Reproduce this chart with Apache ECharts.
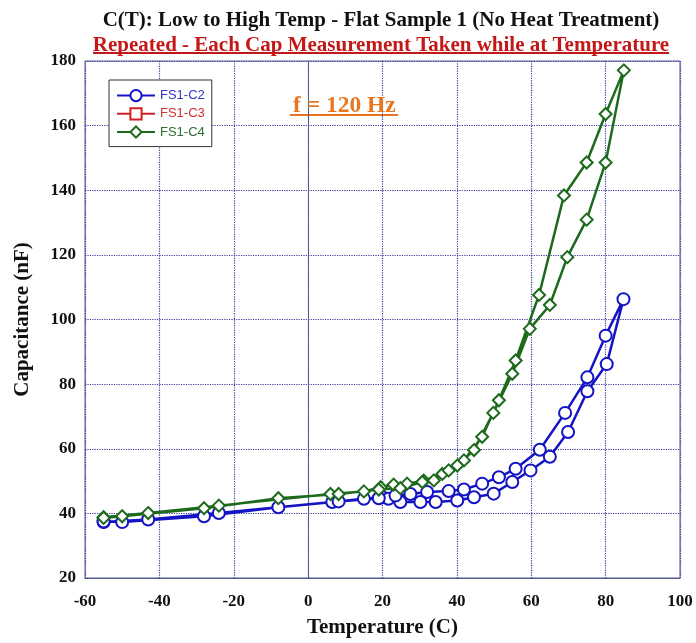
<!DOCTYPE html>
<html>
<head>
<meta charset="utf-8">
<script src="https://cdn.jsdelivr.net/npm/echarts@6/dist/echarts.min.js"></script>
<style>
  html, body { margin: 0; padding: 0; background: #fff; }
  #chart { width: 696px; height: 643px; }
</style>
</head>
<body>
<div id="chart"></div>
<script>
// Axis ticks
const xTicks = { min: -60, max: 100, step: 20 };
const yTicks = { min: 20, max: 180, step: 20 };

// FS1-C2: heating sweep then the repeated sweep back down (temperature in C, capacitance in nF)
const c2Temp = [-55, -43, -24, 6.5, 15, 20, 21.6, 24.8, 30.2, 34.3, 40.1, 44.6, 49.9, 54.9, 59.8, 65, 69.9, 75.1, 80.3, 84.8,
                80, 75.1, 69.1, 62.3, 55.8, 51.3, 46.8, 41.9, 37.8, 32, 27.5, 23.5, 19, 8.2, -8, -28, -50, -55];
const c2Cap  = [37.3, 38.1, 40.1, 43.5, 44.5, 45.0, 44.5, 43.5, 43.5, 43.5, 44.0, 45.0, 46.1, 49.7, 53.3, 57.5, 65.2, 77.8, 86.2, 106.3,
                95.0, 82.1, 71.1, 59.7, 53.8, 51.2, 49.2, 47.4, 46.9, 46.6, 46.0, 45.5, 44.7, 43.7, 41.9, 39.1, 37.3, 37.5];

// FS1-C3: no points recorded
const c3Temp = [];
const c3Cap  = [];

// FS1-C4
const c4Temp = [-55, -43, -24, 6, 15, 19.5, 23, 26.6, 31.1, 36.1, 41.9, 46.8, 51.3, 55.8, 62.1, 68.8, 74.9, 80, 84.9,
                80, 74.9, 69.7, 65.0, 59.6, 54.9, 49.8, 44.6, 40.1, 37.8, 33.8, 30.7, 24.8, 19, 8.2, -8, -28, -50, -55];
const c4Cap  = [38.8, 40.1, 42.4, 46.0, 46.8, 48.1, 48.9, 49.2, 50.1, 52.2, 56.4, 63.7, 75.0, 87.3, 107.6, 138.4, 148.6, 163.6, 177.1,
                148.6, 130.9, 119.3, 104.5, 97.1, 83.2, 71.1, 59.6, 54.8, 53.3, 50.2, 49.7, 47.8, 47.4, 46.0, 44.7, 41.6, 39.1, 38.6];

const seriesNames = ['FS1-C2', 'FS1-C3', 'FS1-C4'];

const pairs = (xs, ys) => xs.map((x, i) => [x, ys[i]]);

const BLUE = '#1414c4';
const RED = '#d02020';
const GREEN = '#1d6a1d';
const SERIF = '"Liberation Serif", "Times New Roman", serif';
const SANS = '"Liberation Sans", Arial, sans-serif';

const chart = echarts.init(document.getElementById('chart'), null, { renderer: 'canvas' });

chart.setOption({
  backgroundColor: '#ffffff',
  animation: false,
  title: [
    {
      text: 'C(T): Low to High Temp - Flat Sample 1 (No Heat Treatment)',
      left: 376, top: 5, textAlign: 'center',
      textStyle: { fontFamily: SERIF, fontWeight: 'bold', fontSize: 21, color: '#111' }
    },
    {
      text: 'Repeated - Each Cap Measurement Taken while at Temperature',
      left: 376, top: 30, textAlign: 'center',
      textStyle: { fontFamily: SERIF, fontWeight: 'bold', fontSize: 21, color: '#c41818' }
    },
    {
      text: 'f = 120 Hz',
      left: 288, top: 89,
      textStyle: { fontFamily: SERIF, fontWeight: 'bold', fontSize: 23.5, color: '#e8761e' }
    }
  ],
  graphic: [
    { type: 'line', shape: { x1: 93, y1: 53, x2: 669, y2: 53 }, style: { stroke: '#c41818', lineWidth: 2 } },
    { type: 'line', shape: { x1: 290, y1: 115, x2: 398, y2: 115 }, style: { stroke: '#e8761e', lineWidth: 2 } }
  ],
  legend: {
    orient: 'vertical',
    left: 109, top: 80,
    padding: [9, 7, 8, 7],
    itemGap: 5,
    itemWidth: 38, itemHeight: 14,
    borderColor: '#333', borderWidth: 1,
    backgroundColor: '#fff',
    textStyle: { fontFamily: SANS, fontSize: 13 },
    data: [
      { name: seriesNames[0], textStyle: { color: '#3535c0' } },
      { name: seriesNames[1], textStyle: { color: '#d03030' } },
      { name: seriesNames[2], textStyle: { color: '#2f6e2f' } }
    ]
  },
  grid: {
    left: 85, right: 16, top: 61, bottom: 64,
    show: true, borderColor: '#555a90', borderWidth: 1
  },
  xAxis: {
    type: 'value',
    min: xTicks.min, max: xTicks.max, interval: xTicks.step,
    name: 'Temperature (C)', nameLocation: 'middle', nameGap: 39,
    nameTextStyle: { fontFamily: SERIF, fontWeight: 'bold', fontSize: 21, color: '#111' },
    axisLine: { show: true, lineStyle: { color: '#555a90', width: 1 } },
    axisTick: { show: false },
    axisLabel: { fontFamily: SERIF, fontWeight: 'bold', fontSize: 17, color: '#111', margin: 15 },
    splitLine: { show: true, lineStyle: { type: 'dotted', color: '#3a3aa0', width: 1.2 } }
  },
  yAxis: {
    type: 'value',
    min: yTicks.min, max: yTicks.max, interval: yTicks.step,
    name: 'Capacitance (nF)', nameLocation: 'middle', nameGap: 52, nameRotate: 90,
    nameTextStyle: { fontFamily: SERIF, fontWeight: 'bold', fontSize: 21, color: '#111' },
    axisLine: { show: true, lineStyle: { color: '#555a90', width: 1 } },
    axisTick: { show: false },
    axisLabel: { fontFamily: SERIF, fontWeight: 'bold', fontSize: 17, color: '#111', margin: 9 },
    splitLine: { show: true, lineStyle: { type: 'dotted', color: '#3a3aa0', width: 1.2 } }
  },
  series: [
    {
      name: seriesNames[0], type: 'line',
      data: pairs(c2Temp, c2Cap),
      symbol: 'emptyCircle', symbolSize: 12,
      lineStyle: { color: BLUE, width: 2.5 },
      itemStyle: { color: BLUE, borderColor: BLUE, borderWidth: 2.2 },
      z: 3
    },
    {
      name: seriesNames[1], type: 'line',
      data: pairs(c3Temp, c3Cap),
      symbol: 'emptyRect', symbolSize: 11,
      lineStyle: { color: RED, width: 2.5 },
      itemStyle: { color: RED, borderColor: RED, borderWidth: 2 },
      z: 2
    },
    {
      name: seriesNames[2], type: 'line',
      data: pairs(c4Temp, c4Cap),
      symbol: 'emptyDiamond', symbolSize: 12,
      lineStyle: { color: GREEN, width: 2.5 },
      itemStyle: { color: GREEN, borderColor: GREEN, borderWidth: 3 },
      z: 4
    }
  ]
});
</script>
</body>
</html>
